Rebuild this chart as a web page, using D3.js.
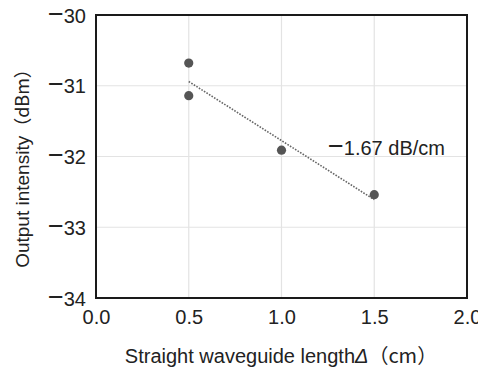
<!DOCTYPE html>
<html><head><meta charset="utf-8">
<script src="https://cdn.jsdelivr.net/npm/d3@7"></script>
<style>body{margin:0;background:#fff}svg{display:block}text{font-family:"Liberation Sans",Arial,"Noto Sans CJK JP",sans-serif;fill:#222}</style>
</head><body><svg id="c" width="478" height="370"></svg>
<script>
const xVals = [0.5, 0.5, 1.0, 1.5];
const yVals = [-30.68, -31.14, -31.91, -32.54];
const fitX = [0.5, 1.5];
const fitY = [-30.94, -32.61];
const xTicks = [0, 0.5, 1.0, 1.5, 2.0];
const yTicks = [-30, -31, -32, -33, -34];
const slopeValue = "1.67 dB/cm";

const svg = d3.select("#c");
const m = {l:96, t:15, r:467, b:298};
const x = d3.scaleLinear().domain([0,2]).range([m.l,m.r]);
const y = d3.scaleLinear().domain([-34,-30]).range([m.b,m.t]);
const neg = s => '<tspan font-size="27">\u2212</tspan><tspan>' + s + '</tspan>';

const g = svg.append("g");
g.selectAll(".gx").data(xTicks.slice(1,-1)).enter().append("line")
 .attr("x1",d=>x(d)).attr("x2",d=>x(d)).attr("y1",m.t).attr("y2",m.b)
 .attr("stroke","#e3e3e3").attr("stroke-width",1.2);
g.selectAll(".gy").data(yTicks.slice(1,-1)).enter().append("line")
 .attr("y1",d=>y(d)).attr("y2",d=>y(d)).attr("x1",m.l).attr("x2",m.r)
 .attr("stroke","#e3e3e3").attr("stroke-width",1.2);

const xAxis = d3.axisBottom(x).tickValues(xTicks).tickFormat(d3.format(".1f")).tickSize(0).tickPadding(12);
const yAxis = d3.axisLeft(y).tickValues(yTicks).tickFormat(d=>Math.abs(d)).tickSize(0).tickPadding(10);
const ax = svg.append("g").attr("transform",`translate(0,${m.b})`).call(xAxis);
const ay = svg.append("g").attr("transform",`translate(${m.l},0)`).call(yAxis);
[ax,ay].forEach(a=>{a.select(".domain").remove();a.selectAll("text").attr("font-size",20).attr("fill","#222").attr("font-family",'"Liberation Sans",Arial,sans-serif');});
ax.selectAll("text").attr("dy","0.71em");
ay.selectAll("text").attr("dy",null).attr("y",7).each(function(d){ d3.select(this).html(neg(Math.abs(d))); });

svg.append("rect").attr("x",m.l).attr("y",m.t).attr("width",m.r-m.l).attr("height",m.b-m.t)
 .attr("fill","none").attr("stroke","#1a1a1a").attr("stroke-width",2);

svg.append("line").attr("x1",x(fitX[0])).attr("y1",y(fitY[0])).attr("x2",x(fitX[1])).attr("y2",y(fitY[1]))
 .attr("stroke","#666").attr("stroke-width",1.6).attr("stroke-dasharray","1.6,1.4");

svg.selectAll(".pt").data(xVals).enter().append("circle")
 .attr("cx",d=>x(d)).attr("cy",(d,i)=>y(yVals[i])).attr("r",4.6).attr("fill","#555");

svg.append("text").attr("x",328).attr("y",155).attr("font-size",20).html(neg(slopeValue));

svg.append("text").attr("x",281).attr("y",363).attr("text-anchor","middle").attr("font-size",20)
 .html('Straight waveguide length<tspan font-style="italic">Δ</tspan><tspan font-family="Noto Sans CJK JP" font-size="20">（cm）</tspan>');
svg.append("text").attr("transform",`translate(29,164) rotate(-90)`).attr("text-anchor","middle").attr("font-size",19)
 .html('Output intensity<tspan font-family="Noto Sans CJK JP" font-size="18">（dBm）</tspan>');
</script></body></html>
